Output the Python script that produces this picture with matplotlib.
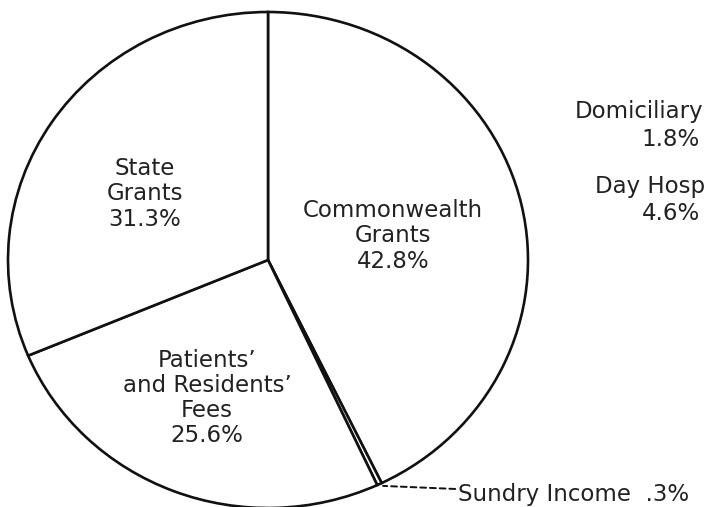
import matplotlib
matplotlib.use("Agg")
import matplotlib.pyplot as plt
import numpy as np

# shares of income, clockwise from 12 o'clock
sources = ["Commonwealth\nGrants", "Sundry Income", "Patients\u2019\nand Residents\u2019\nFees", "State\nGrants"]
shares = [42.8, 0.3, 25.6, 31.3]
share_text = ["42.8%", ".3%", "25.6%", "31.3%"]

# fragments of the neighbouring chart, cut by the page edge
side_names = ["Domiciliary", "Day Hosp"]
side_text = ["1.8%", "4.6%"]

W, H = 708, 507
SY = 260 / 248  # scan is slightly squashed vertically


def px(x, y):
    # page pixel -> data coords
    return x, (H - y) * SY


fig = plt.figure(figsize=(W / 100, H / 100), dpi=100)
ax = fig.add_axes([0, 0, 1, 1])

cx, cy = px(268, 260)
wedges, _ = ax.pie(shares, startangle=90, counterclock=False,
                   center=(cx, cy), radius=260, frame=True,
                   wedgeprops=dict(facecolor="white", edgecolor="#111111", linewidth=1.9))
ax.set_xlim(0, W)
ax.set_ylim(0, H * SY)
ax.set_aspect("auto")
ax.axis("off")

font = dict(family="DejaVu Sans", fontsize=16.5, color="#222222",
            ha="center", va="center", linespacing=1.12)

label_pos = {0: (393, 236), 2: (207, 398), 3: (145, 194)}
for i, (x, y) in label_pos.items():
    ax.text(*px(x, y), sources[i] + "\n" + share_text[i], **font)

# sundry income: leader from the thin slice to the label
w = wedges[1]
mid = np.deg2rad((w.theta1 + w.theta2) / 2)
edge = (cx + 262 * np.cos(mid), cy + 262 * np.sin(mid))
ax.annotate(sources[1] + "  " + share_text[1], xy=edge, xytext=px(458, 494),
            ha="left", va="center", family="DejaVu Sans", fontsize=16.5, color="#222222",
            arrowprops=dict(arrowstyle="-", linestyle=(0, (3, 2)), color="#111111",
                            linewidth=1.4, shrinkA=0, shrinkB=2))

# labels of the next chart at the right edge
for name, pct, (x0, y0) in zip(side_names, side_text, [(575, 112), (595, 186)]):
    ax.text(*px(x0, y0), name, family="DejaVu Sans", fontsize=16.5, color="#222222",
            ha="left", va="center")
    ax.text(*px(671, y0 + 27), pct, family="DejaVu Sans", fontsize=16.5, color="#222222",
            ha="center", va="center")

fig.savefig("out.png", dpi=100)
